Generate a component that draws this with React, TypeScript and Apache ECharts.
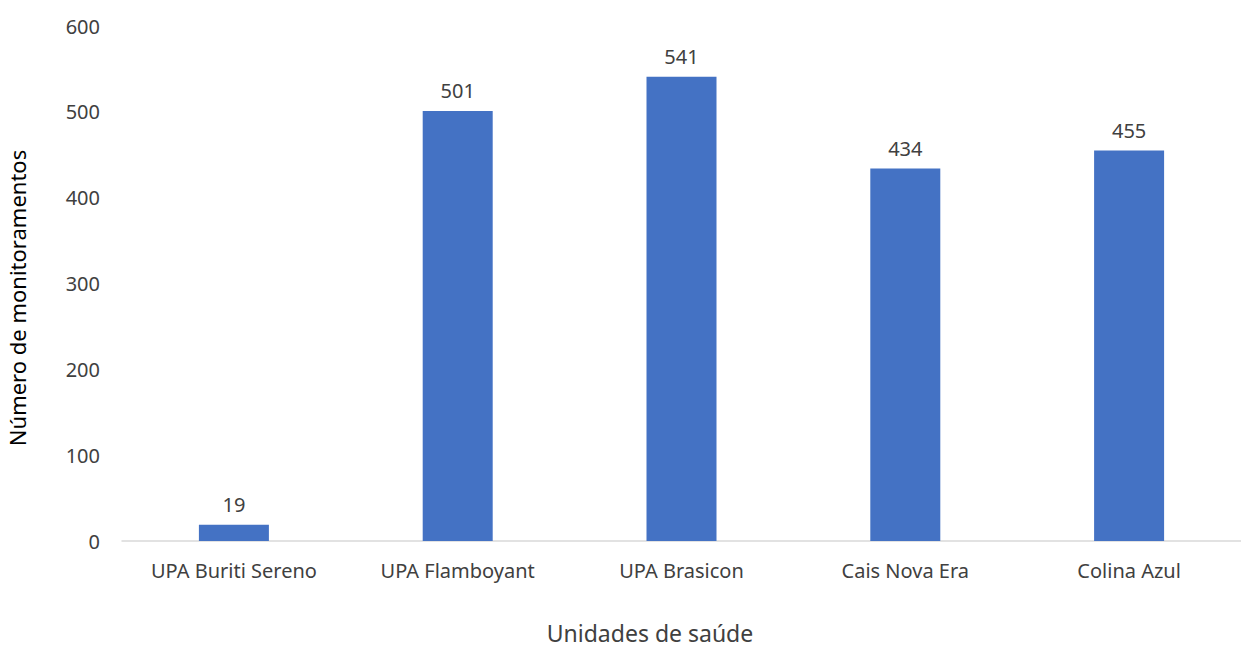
import React, { useEffect, useRef } from "react";
import * as echarts from "echarts";

const categories = ["UPA Buriti Sereno", "UPA Flamboyant", "UPA Brasicon", "Cais Nova Era", "Colina Azul"];
const values = [19, 501, 541, 434, 455];
const yTicks = [0, 100, 200, 300, 400, 500, 600];

const FONT = "'Noto Sans', 'Open Sans', sans-serif";
const TXT = "#404040";

export default function App() {
  const ref = useRef<HTMLDivElement>(null);
  useEffect(() => {
    if (!ref.current) return;
    const chart = echarts.init(ref.current, undefined, { renderer: "svg" });
    chart.setOption({
      animation: false,
      backgroundColor: "#ffffff",
      grid: { left: 122, top: 26, width: 1128, height: 515, containLabel: false },
      xAxis: {
        type: "category",
        data: categories,
        axisLine: { lineStyle: { color: "#d9d9d9", width: 1.5 } },
        axisTick: { show: false },
        axisLabel: { color: TXT, fontSize: 20, fontFamily: FONT, margin: 19 },
      },
      yAxis: {
        type: "value",
        min: yTicks[0],
        max: yTicks[yTicks.length - 1],
        interval: 100,
        splitLine: { show: false },
        axisLine: { show: false },
        axisTick: { show: false },
        axisLabel: { color: TXT, fontSize: 20, fontFamily: FONT, margin: 22 },
      },
      graphic: [
        {
          type: "text",
          x: 17,
          y: 298,
          rotation: Math.PI / 2,
          style: {
            text: "Número de monitoramentos",
            fill: "#000000",
            font: `22px ${FONT}`,
            align: "center",
            verticalAlign: "middle",
          },
        },
        {
          type: "text",
          x: 650,
          y: 633,
          style: {
            text: "Unidades de saúde",
            fill: TXT,
            font: `23px ${FONT}`,
            align: "center",
            verticalAlign: "middle",
          },
        },
      ],
      series: [
        {
          type: "bar",
          data: values,
          barWidth: 70,
          itemStyle: { color: "#4472c4" },
          label: {
            show: true,
            position: "top",
            distance: 10,
            color: TXT,
            fontSize: 20,
            fontFamily: FONT,
          },
        },
      ],
    });
    return () => chart.dispose();
  }, []);
  return (
    <div
      ref={ref}
      style={{ position: "fixed", left: 0, top: 0, width: 1241, height: 650, background: "#fff" }}
    />
  );
}
